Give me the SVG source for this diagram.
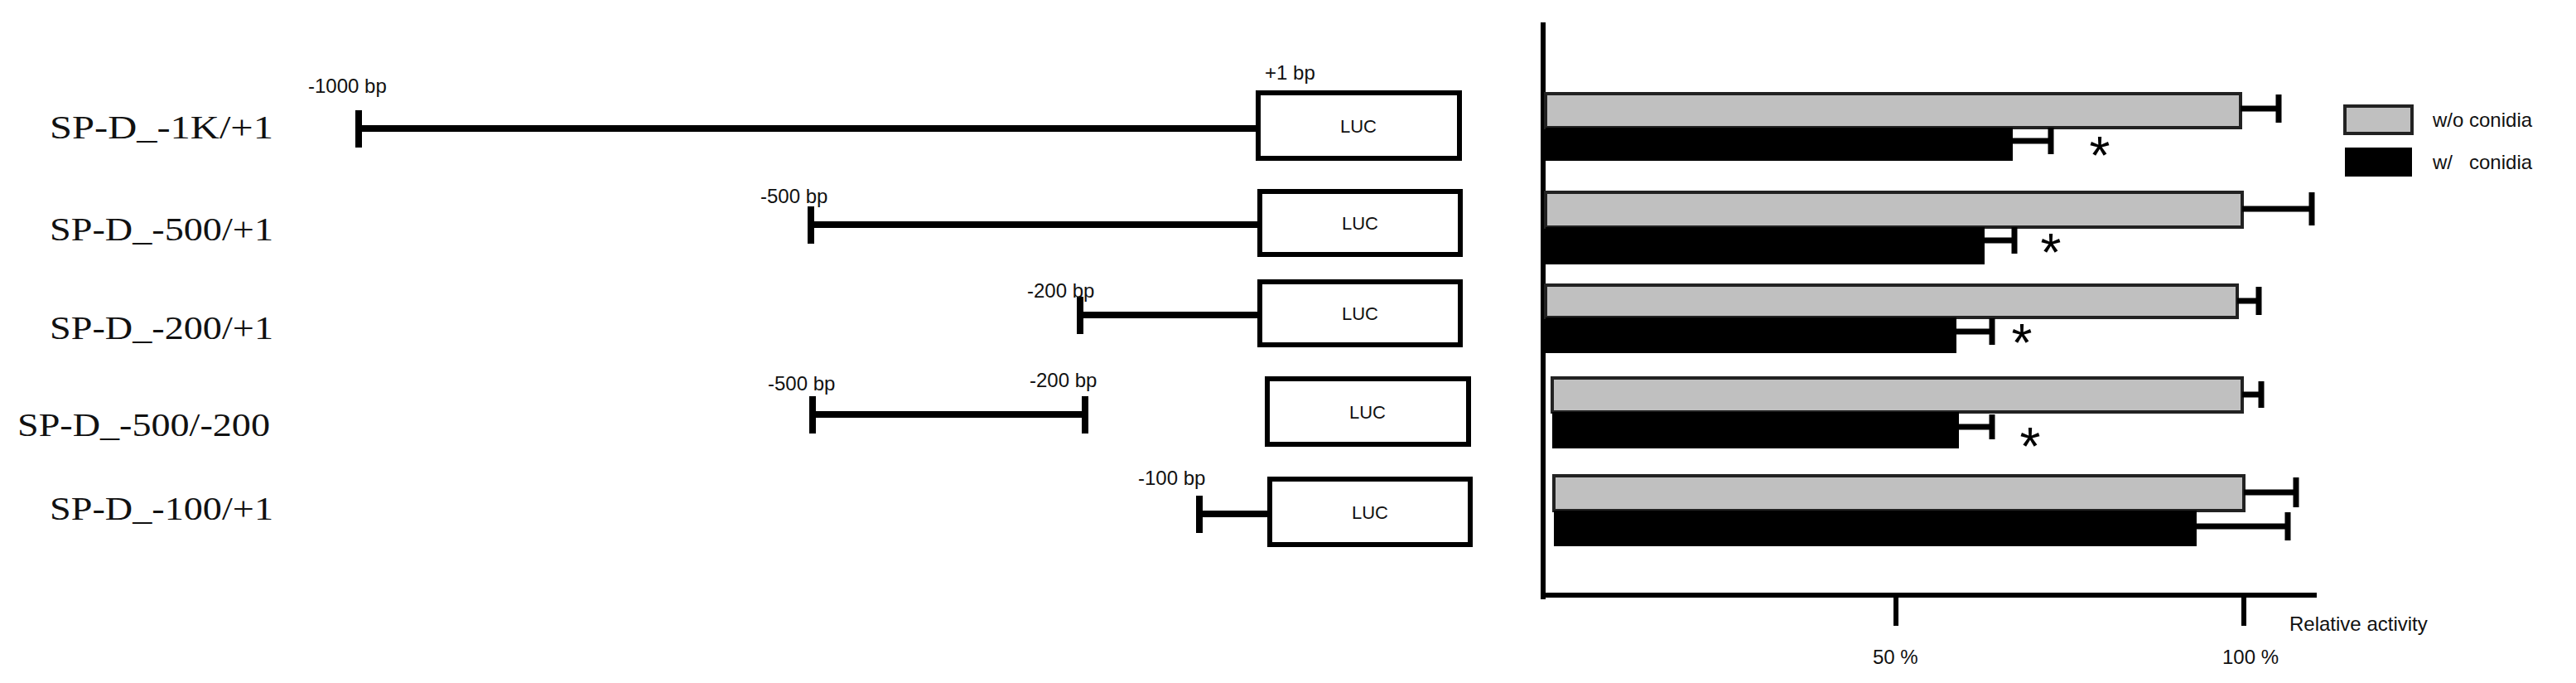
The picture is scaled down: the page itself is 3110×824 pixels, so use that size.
<svg xmlns="http://www.w3.org/2000/svg" width="3110" height="824" viewBox="0 0 3110 824">
<style>
.lbl{font-family:"Liberation Serif",serif;font-size:40px;fill:#111}
.bp{font-family:"Liberation Sans",sans-serif;font-size:24px;fill:#111}
.luc{font-family:"Liberation Sans",sans-serif;font-size:22px;fill:#111;text-anchor:middle}
.box{fill:#fff;stroke:#000;stroke-width:6}
.seg{stroke:#000;stroke-width:8;fill:none}
.g{fill:#c0c0c0;stroke:#222;stroke-width:4}
.k{fill:#000}
.err{stroke:#000;stroke-width:7;fill:none}
.ax{stroke:#000;stroke-width:6;fill:none}
.star{font-family:"Liberation Sans",sans-serif;font-size:64px;fill:#000;text-anchor:middle}
.tk{font-family:"Liberation Sans",sans-serif;font-size:24px;fill:#111}
</style>
<g id="connectors">
<path class="seg" d="M433 155H1519M433 133V178"/>
<path class="seg" d="M979 271H1521M979 249V294"/>
<path class="seg" d="M1304 380H1521M1304 358V403"/>
<path class="seg" d="M981 500H1310M981 478V523M1310 478V523"/>
<path class="seg" d="M1448 620H1533M1448 598V643"/>
</g>
<g id="row1"><text class="lbl" x="60" y="167" textLength="270" lengthAdjust="spacingAndGlyphs">SP-D_-1K/+1</text>
<text class="bp" x="372" y="112">-1000 bp</text><text class="bp" x="1527" y="96">+1 bp</text>
<rect class="box" x="1519" y="112" width="243" height="79"/><text class="luc" x="1640" y="160">LUC</text></g>
<g id="row2"><text class="lbl" x="60" y="290" textLength="270" lengthAdjust="spacingAndGlyphs">SP-D_-500/+1</text>
<text class="bp" x="918" y="245">-500 bp</text>
<rect class="box" x="1521" y="231" width="242" height="76"/><text class="luc" x="1642" y="277">LUC</text></g>
<g id="row3"><text class="lbl" x="60" y="409" textLength="270" lengthAdjust="spacingAndGlyphs">SP-D_-200/+1</text>
<text class="bp" x="1240" y="359">-200 bp</text>
<rect class="box" x="1521" y="340" width="242" height="76"/><text class="luc" x="1642" y="386">LUC</text></g>
<g id="row4"><text class="lbl" x="21" y="526" textLength="305" lengthAdjust="spacingAndGlyphs">SP-D_-500/-200</text>
<text class="bp" x="927" y="471">-500 bp</text><text class="bp" x="1243" y="467">-200 bp</text>
<rect class="box" x="1530" y="457" width="243" height="79"/><text class="luc" x="1651" y="505">LUC</text></g>
<g id="row5"><text class="lbl" x="60" y="627" textLength="270" lengthAdjust="spacingAndGlyphs">SP-D_-100/+1</text>
<text class="bp" x="1374" y="585">-100 bp</text>
<rect class="box" x="1533" y="578" width="242" height="79"/><text class="luc" x="1654" y="626">LUC</text></g>
<g id="chart">
<path class="ax" d="M1863 27V723M1863 718H2797M2289 718V755M2709 718V755"/>
<text class="tk" x="2261" y="801">50 %</text><text class="tk" x="2683" y="801">100 %</text>
<text class="tk" x="2764" y="761">Relative activity</text>
<rect class="g" x="1866" y="113" width="839" height="41"/><rect class="k" x="1866" y="154" width="564" height="40"/>
<path class="err" d="M2705 131H2751M2751 114V148M2430 170H2476M2476 154V186"/>
<rect class="g" x="1866" y="232" width="841" height="42"/><rect class="k" x="1866" y="274" width="530" height="45"/>
<path class="err" d="M2707 252H2791M2791 232V272M2396 290H2432M2432 274V306"/>
<rect class="g" x="1866" y="344" width="835" height="39"/><rect class="k" x="1866" y="383" width="496" height="43"/>
<path class="err" d="M2701 363H2727M2727 346V380M2362 400H2405M2405 384V416"/>
<rect class="g" x="1874" y="456" width="833" height="41"/><rect class="k" x="1874" y="497" width="491" height="44"/>
<path class="err" d="M2707 476H2730M2730 460V492M2365 515H2405M2405 500V530"/>
<rect class="g" x="1876" y="574" width="833" height="42"/><rect class="k" x="1876" y="616" width="776" height="43"/>
<path class="err" d="M2709 594H2772M2772 576V612M2652 635H2762M2762 618V652"/>
<text class="star" x="2535" y="210">*</text><text class="star" x="2476" y="327">*</text>
<text class="star" x="2441" y="436">*</text><text class="star" x="2451" y="561">*</text>
</g>
<g id="legend">
<rect class="g" x="2831" y="128" width="81" height="33"/><rect class="k" x="2831" y="178" width="81" height="35"/>
<text class="tk" x="2937" y="153">w/o conidia</text><text class="tk" x="2937" y="204" xml:space="preserve">w/   conidia</text>
</g>
</svg>
